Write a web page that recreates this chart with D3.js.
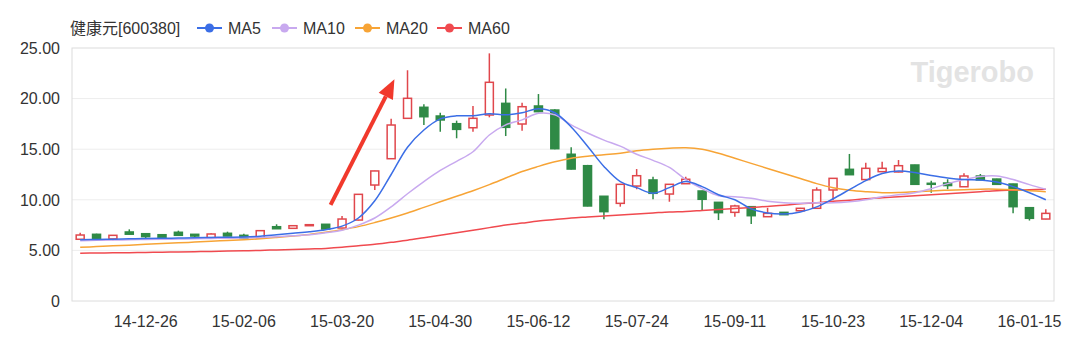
<!DOCTYPE html>
<meta charset="utf-8">
<style>
body { margin: 0; background: #fff; }
text { font-family: "Liberation Sans", Arial, "Noto Sans CJK SC", sans-serif; fill: #333; }
</style>
<body>
<script src="https://d3js.org/d3.v7.min.js"></script>
<script>

// weekly candles, 14-11-28 .. 16-01-22
var dates = ["14-11-28","14-12-05","14-12-12","14-12-19","14-12-26","14-12-31","15-01-09","15-01-16","15-01-23","15-01-30",
  "15-02-06","15-02-13","15-02-17","15-02-27","15-03-06","15-03-13","15-03-20","15-03-27","15-04-03","15-04-10",
  "15-04-17","15-04-24","15-04-30","15-05-08","15-05-15","15-05-22","15-05-29","15-06-05","15-06-12","15-06-19",
  "15-06-26","15-07-03","15-07-10","15-07-17","15-07-24","15-07-31","15-08-07","15-08-14","15-08-21","15-09-02",
  "15-09-11","15-09-18","15-09-25","15-09-30","15-10-09","15-10-16","15-10-23","15-10-30","15-11-06","15-11-13",
  "15-11-20","15-11-27","15-12-04","15-12-11","15-12-18","15-12-25","15-12-31","16-01-08","16-01-15","16-01-22"];

var open  = [6.10,6.59,6.13,6.82,6.65,6.55,6.79,6.59,6.26,6.69, 6.49,6.26,7.34,7.18,7.44,7.58,7.21,8.00,11.46,14.06,
  18.05,19.14,18.28,17.52,17.12,18.38,19.53,17.49,19.27,18.87, 14.50,13.37,10.35,9.65,11.36,11.96,10.57,11.59,10.87,9.75,
  8.76,9.32,8.33,8.76,8.92,9.16,10.97,13.01,12.00,12.78, 12.75,13.44,11.63,11.66,11.29,12.35,12.05,11.56,9.22,8.10];
var close = [6.52,6.19,6.49,6.60,6.36,6.10,6.49,6.42,6.62,6.42, 6.19,6.95,7.14,7.44,7.54,7.11,8.10,10.54,12.85,17.39,
  20.03,18.21,17.89,16.96,18.05,21.61,17.16,19.20,18.71,15.05, 13.04,9.39,8.83,11.53,12.38,10.64,11.53,12.03,10.05,8.73,
  9.39,8.43,8.66,8.53,9.16,10.97,12.12,12.48,13.11,13.11, 13.37,11.53,11.55,11.41,12.35,11.96,11.53,9.32,8.17,8.66];
var high  = [6.75,6.65,6.52,7.08,6.68,6.58,6.95,6.60,6.70,6.85, 6.65,6.98,7.58,7.46,7.56,7.60,8.40,10.56,12.87,18.00,
  22.80,19.44,18.60,17.82,19.27,24.47,21.00,19.60,20.45,18.95, 15.19,13.45,10.38,11.56,13.04,12.28,11.56,12.28,10.90,9.78,
  9.52,9.35,9.20,8.78,9.20,11.23,12.15,14.53,13.67,13.76, 13.93,13.47,11.89,12.03,12.62,12.55,12.08,11.58,9.24,9.06];
var low   = [6.05,6.15,6.00,6.58,6.10,6.08,6.47,6.29,6.20,6.40, 6.17,6.24,7.12,7.16,7.42,7.09,7.19,7.95,10.97,14.04,
  18.00,17.39,16.73,16.08,16.73,18.15,16.30,16.83,18.65,15.00, 13.00,9.35,8.07,9.32,11.04,10.05,9.81,11.55,8.92,8.00,
  8.33,7.61,8.30,8.50,8.90,9.14,9.98,12.45,11.98,12.75, 12.72,11.50,10.70,11.04,11.27,11.94,11.50,8.66,7.95,8.08];

var ma5  = [6.05,6.08,6.10,6.15,6.18,6.20,6.22,6.25,6.28,6.30, 6.32,6.40,6.55,6.70,6.85,7.05,7.40,8.20,9.90,12.50,
  15.20,16.90,18.00,18.30,18.30,18.50,18.40,18.60,19.00,18.60, 17.20,15.30,13.30,11.80,11.20,10.65,11.20,11.80,11.30,10.50,
  10.00,9.10,8.70,8.60,8.80,9.30,10.10,11.00,11.90,12.60, 12.85,12.70,12.40,12.15,12.00,11.95,11.75,11.30,10.70,10.00];
var ma10 = [5.95,6.00,6.02,6.05,6.08,6.10,6.12,6.15,6.18,6.20, 6.22,6.28,6.35,6.45,6.55,6.75,7.00,7.50,8.20,9.30,
  10.60,11.80,12.90,13.80,14.75,16.40,17.40,17.90,18.55,18.40, 17.40,16.60,15.90,15.30,14.50,13.90,13.20,12.00,11.10,10.40,
  10.30,10.15,9.85,9.70,9.65,9.70,9.70,9.80,10.00,10.30, 10.50,10.70,11.10,11.60,12.00,12.30,12.35,12.00,11.50,11.05];
var ma20 = [5.30,5.38,5.45,5.52,5.60,5.68,5.75,5.82,5.90,5.98, 6.05,6.15,6.28,6.42,6.58,6.80,7.05,7.35,7.75,8.20,
  8.70,9.25,9.80,10.35,10.90,11.50,12.15,12.80,13.30,13.75, 14.10,14.30,14.45,14.60,14.85,15.00,15.10,15.15,15.00,14.60,
  14.10,13.60,13.10,12.60,12.10,11.60,11.20,10.95,10.80,10.70, 10.72,10.80,10.88,10.95,11.00,11.05,11.05,11.00,10.90,10.80];
var ma60 = [4.72,4.74,4.76,4.78,4.80,4.82,4.85,4.87,4.90,4.93, 4.96,5.00,5.05,5.10,5.15,5.20,5.30,5.45,5.60,5.80,
  6.00,6.25,6.50,6.75,7.00,7.25,7.50,7.70,7.90,8.05, 8.20,8.30,8.40,8.50,8.60,8.70,8.80,8.85,8.95,9.05,
  9.15,9.25,9.35,9.45,9.60,9.70,9.85,9.95,10.10,10.20, 10.30,10.40,10.50,10.60,10.70,10.80,10.90,10.95,11.00,11.05];

var series = [
  {name: "MA5",  values: ma5,  color: "#3b6ee6"},
  {name: "MA10", values: ma10, color: "#c8a9ef"},
  {name: "MA20", values: ma20, color: "#f7a436"},
  {name: "MA60", values: ma60, color: "#f04a4f"}
];
var yTicks = [0, 5, 10, 15, 20, 25];
var xTickIdx = [4, 10, 16, 22, 28, 34, 40, 46, 52, 58];
// annotation arrow, [index, price] from tail to head
var arrow = [[15.3, 9.5], [19.2, 21.9]];

var width = 1080, height = 341;
var svg = d3.select("body").append("svg")
    .attr("width", width)
    .attr("height", height);

var x = d3.scaleBand().domain(d3.range(dates.length)).range([72, 1054]);
var y = d3.scaleLinear().domain([0, 25]).range([301, 48]);
var cx = function(i) { return x(i) + x.bandwidth() / 2; };

// grid
svg.append("g").selectAll("line")
  .data(yTicks.slice(1, -1))
  .enter().append("line")
    .attr("x1", 72).attr("x2", 1054)
    .attr("y1", d => y(d)).attr("y2", d => y(d))
    .attr("stroke", "#ededed");

svg.append("rect")
    .attr("x", 72).attr("y", y(25))
    .attr("width", 1054 - 72).attr("height", y(0) - y(25))
    .attr("fill", "none").attr("stroke", "#dcdcdc");

// y labels
svg.append("g").selectAll("text")
  .data(yTicks)
  .enter().append("text")
    .attr("x", 60).attr("y", d => y(d))
    .attr("dy", "0.36em")
    .attr("text-anchor", "end")
    .style("font-size", "16px")
    .text(d => d === 0 ? "0" : d.toFixed(2));

// x labels
svg.append("g").selectAll("text")
  .data(xTickIdx)
  .enter().append("text")
    .attr("x", d => cx(d)).attr("y", 327)
    .attr("text-anchor", "middle")
    .style("font-size", "16px")
    .text(d => dates[d]);

// watermark
svg.append("text")
    .attr("x", 1034).attr("y", 82)
    .attr("text-anchor", "end")
    .style("font-size", "29px").style("font-weight", "bold")
    .style("fill", "#e3e3e3")
    .text("Tigerobo");

// candles
var up = "#e0474c", down = "#2f8a46";
var bw = 8;
var c = svg.append("g").selectAll("g")
  .data(d3.range(dates.length))
  .enter().append("g");

c.append("line")
    .attr("x1", i => cx(i)).attr("x2", i => cx(i))
    .attr("y1", i => y(high[i])).attr("y2", i => y(low[i]))
    .attr("stroke", i => close[i] >= open[i] ? up : down)
    .attr("stroke-width", 1.5);

c.append("rect")
    .attr("x", i => cx(i) - bw / 2)
    .attr("width", bw)
    .attr("y", i => y(Math.max(open[i], close[i])))
    .attr("height", i => Math.max(1, Math.abs(y(open[i]) - y(close[i]))))
    .attr("fill", i => close[i] >= open[i] ? "#fff" : down)
    .attr("stroke", i => close[i] >= open[i] ? up : down)
    .attr("stroke-width", 1.5);

// moving averages
var line = d3.line()
    .x((d, i) => cx(i))
    .y(d => y(d))
    .curve(d3.curveCatmullRom.alpha(0.5));

svg.append("g").selectAll("path")
  .data(series.slice().reverse())
  .enter().append("path")
    .attr("d", d => line(d.values))
    .attr("fill", "none")
    .attr("stroke", d => d.color)
    .attr("stroke-width", 1.5);

// arrow
var ax0 = cx(0) + (arrow[0][0]) * x.step(), ay0 = y(arrow[0][1]);
var ax1 = cx(0) + (arrow[1][0]) * x.step(), ay1 = y(arrow[1][1]);
var ang = Math.atan2(ay1 - ay0, ax1 - ax0);
var hl = 19, hw = 8;
var bx = ax1 - hl * Math.cos(ang), by = ay1 - hl * Math.sin(ang);
svg.append("line")
    .attr("x1", ax0).attr("y1", ay0)
    .attr("x2", bx).attr("y2", by)
    .attr("stroke", "#f1392c").attr("stroke-width", 4);
svg.append("path")
    .attr("d", "M" + ax1 + "," + ay1 +
      "L" + (bx + hw * Math.sin(ang)) + "," + (by - hw * Math.cos(ang)) +
      "L" + (bx - hw * Math.sin(ang)) + "," + (by + hw * Math.cos(ang)) + "Z")
    .attr("fill", "#f1392c");

// title + legend
svg.append("text")
    .attr("x", 70).attr("y", 28).attr("dy", "0.36em")
    .style("font-size", "16px")
    .text("健康元[600380]");

var legX = [197, 272, 355, 437];
var leg = svg.append("g").selectAll("g")
  .data(series)
  .enter().append("g")
    .attr("transform", (d, i) => "translate(" + legX[i] + ",28)");
leg.append("line")
    .attr("x1", 0).attr("x2", 25)
    .attr("stroke", d => d.color).attr("stroke-width", 2);
leg.append("circle")
    .attr("cx", 12.5).attr("r", 4.5)
    .attr("fill", d => d.color);
leg.append("text")
    .attr("x", 31).attr("dy", "0.36em")
    .style("font-size", "16px")
    .text(d => d.name);

</script>
</body>
</html>
